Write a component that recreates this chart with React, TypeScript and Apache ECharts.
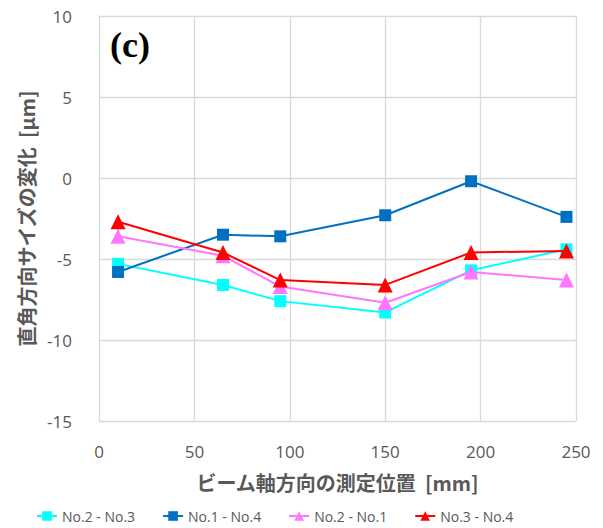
import React, { useEffect, useRef } from "react";
import * as echarts from "echarts";

const positions = [10, 65, 95, 150, 195, 245];
const no2no3 = [-5.3, -6.6, -7.6, -8.3, -5.7, -4.4];
const no1no4 = [-5.8, -3.5, -3.6, -2.3, -0.2, -2.4];
const no2no1 = [-3.6, -4.8, -6.7, -7.7, -5.8, -6.3];
const no3no4 = [-2.7, -4.6, -6.3, -6.6, -4.6, -4.5];

const seriesNames = ["No.2 - No.3", "No.1 - No.4", "No.2 - No.1", "No.3 - No.4"];
const seriesColors = ["#00FFFF", "#0070C0", "#FF77FF", "#FF0000"];
const seriesSymbols = ["rect", "rect", "triangle", "triangle"];
const seriesValues = [no2no3, no1no4, no2no1, no3no4];

const FONT = "'Open Sans', 'Noto Sans CJK JP', sans-serif";
const JP = "'Noto Sans CJK JP', sans-serif";

export default function App() {
  const ref = useRef<HTMLDivElement>(null);
  useEffect(() => {
    if (!ref.current) return;
    const chart = echarts.init(ref.current, null, { renderer: "svg" });
    chart.setOption({
      animation: false,
      backgroundColor: "#ffffff",
      grid: { left: 99, right: 27, top: 16, bottom: 107, containLabel: false },
      xAxis: {
        type: "value",
        min: 0,
        max: 250,
        interval: 50,
        name: "ビーム軸方向の測定位置  [mm]",
        nameLocation: "middle",
        nameGap: 51,
        nameTextStyle: { fontFamily: JP, fontSize: 20, fontWeight: "bold", color: "#595959" },
        axisLine: { show: true, lineStyle: { color: "#d9d9d9" } },
        axisTick: { show: false },
        axisLabel: { fontFamily: FONT, fontSize: 17, color: "#595959", margin: 22 },
        splitLine: { show: true, lineStyle: { color: "#d9d9d9", width: 1.3 } },
      },
      yAxis: {
        type: "value",
        min: -15,
        max: 10,
        interval: 5,
        name: "直角方向サイズの変化  [μm]",
        nameLocation: "middle",
        nameGap: 60,
        nameRotate: 90,
        nameTextStyle: { fontFamily: JP, fontSize: 20, fontWeight: "bold", color: "#595959" },
        axisLine: { show: true, lineStyle: { color: "#d9d9d9" } },
        axisTick: { show: false },
        axisLabel: { fontFamily: FONT, fontSize: 17, color: "#595959", margin: 27 },
        splitLine: { show: true, lineStyle: { color: "#d9d9d9", width: 1.3 } },
      },
      legend: {
        bottom: 0,
        left: 31,
        itemGap: 27,
        itemWidth: 20,
        itemHeight: 12,
        textStyle: { fontFamily: FONT, fontSize: 14, color: "#595959" },
        data: seriesNames,
      },
      graphic: [
        {
          type: "text",
          left: 110,
          top: 27,
          style: {
            text: "(c)",
            fontFamily: "'Liberation Serif', 'DejaVu Serif', serif",
            fontWeight: "bold",
            fontSize: 36,
            fill: "#000000",
          },
        },
      ],
      series: seriesNames.map((name, i) => ({
        name,
        type: "line",
        data: positions.map((p, j) => [p, seriesValues[i][j]]),
        symbol: seriesSymbols[i],
        symbolSize: seriesSymbols[i] === "rect" ? 12 : 15,
        lineStyle: { color: seriesColors[i], width: 2 },
        itemStyle: { color: seriesColors[i] },
        z: i + 2,
      })),
    });
    return () => chart.dispose();
  }, []);
  return <div ref={ref} style={{ width: 603, height: 528, position: "absolute", left: 0, top: 0 }} />;
}
